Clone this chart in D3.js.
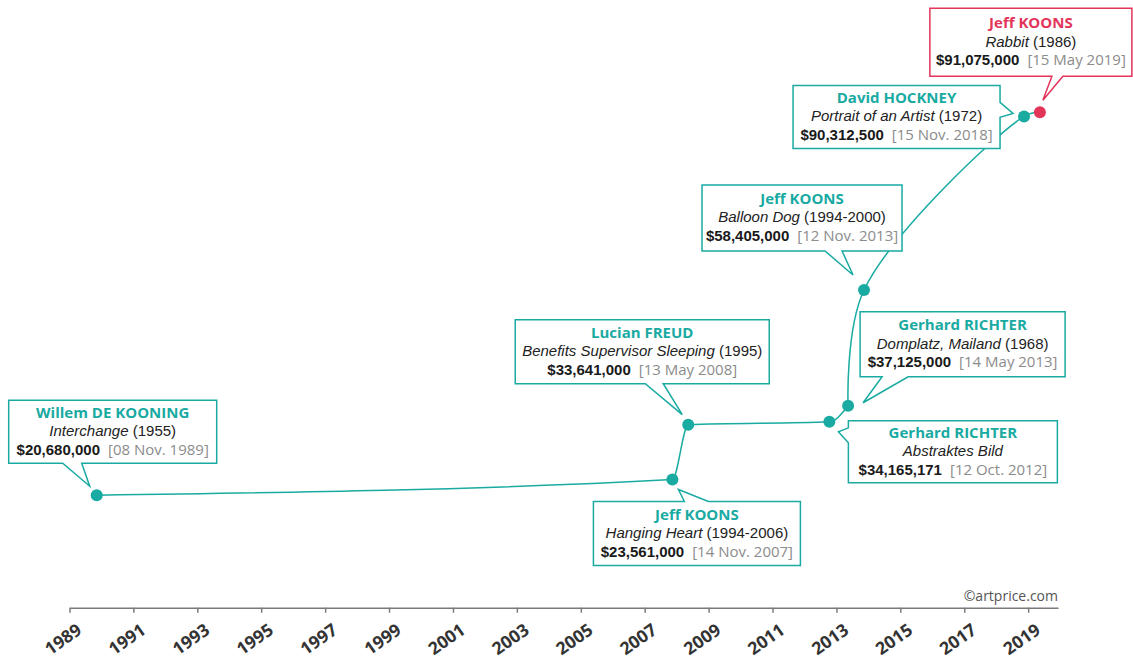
<!DOCTYPE html>
<html lang="en">
<head>
<meta charset="UTF-8">
<title>Auction records</title>
<script src="https://d3js.org/d3.v7.min.js"></script>
<style>
  body { margin: 0; background: #fff; }
</style>
</head>
<body>
<script>

    // data
    var artists = ['Willem DE KOONING', 'Jeff KOONS', 'Lucian FREUD', 'Gerhard RICHTER',
                   'Gerhard RICHTER', 'Jeff KOONS', 'David HOCKNEY', 'Jeff KOONS']
    var works = ['Interchange', 'Hanging Heart', 'Benefits Supervisor Sleeping', 'Abstraktes Bild',
                 'Domplatz, Mailand', 'Balloon Dog', 'Portrait of an Artist', 'Rabbit']
    var workYears = ['1955', '1994-2006', '1995', '', '1968', '1994-2000', '1972', '1986']
    var prices = [20680000, 23561000, 33641000, 34165171, 37125000, 58405000, 90312500, 91075000]
    var saleDates = ['1989-11-08', '2007-11-14', '2008-05-13', '2012-10-12',
                     '2013-05-14', '2013-11-12', '2018-11-15', '2019-05-15']
    var dateLabels = ['08 Nov. 1989', '14 Nov. 2007', '13 May 2008', '12 Oct. 2012',
                      '14 May 2013', '12 Nov. 2013', '15 Nov. 2018', '15 May 2019']
    var tickYears = [1989, 1991, 1993, 1995, 1997, 1999, 2001, 2003, 2005,
                     2007, 2009, 2011, 2013, 2015, 2017, 2019]

    var w = 1133, h = 660;
    var teal = '#19aaa2', red = '#e3345a';

    // callout boxes, placed relative to their dot
    // side = where the pointer leaves the box, a/b = pointer base, tx/ty = pointer tip
    var callouts = [
        {dx: -88, dy: -95, w: 208, h: 63, side: 'bottom', a: -34, b: -15, tx: -7, ty: -9},
        {dx: -79, dy: 22, w: 207, h: 64, side: 'top', a: 12, b: 36, tx: 6, ty: 10},
        {dx: -173, dy: -105, w: 254, h: 64, side: 'bottom', a: -43, b: -25, tx: -6, ty: -10},
        {dx: 19, dy: -1, w: 209, h: 62, side: 'left', a: 6, b: 21, tx: 9, ty: 10},
        {dx: 12, dy: -94, w: 205, h: 65, side: 'bottom', a: 34, b: 60, tx: 15, ty: -3},
        {dx: -162, dy: -105, w: 200, h: 66, side: 'bottom', a: -39, b: -22, tx: -11, ty: -15},
        {dx: -231, dy: -31, w: 207, h: 63, side: 'right', a: -14, b: 1, tx: -11, ty: -3},
        {dx: -110, dy: -104, w: 202, h: 68, side: 'bottom', a: 12, b: 23, tx: 3, ty: -12}
    ]

    var parseDate = d3.timeParse('%Y-%m-%d')
    var fmtPrice = d3.format('$,')

    var points = saleDates.map(function(d, i) {
        return {date: parseDate(d), price: prices[i], i: i}
    })

    var svg = d3.select('body')
                .append('svg')
                .attr('width', w)
                .attr('height', h)

    //scales
    var xScale = d3.scaleTime()
                   .domain([new Date(1989, 0, 1), new Date(2019, 11, 8)])
                   .range([69.5, 1058])

    var yScale = d3.scaleLinear()
                   .domain([0, 100000000])
                   .range([607.7, 63.7])

    //axis
    var axisx = d3.axisBottom(xScale)
                  .tickValues(tickYears.map(function(y) { return new Date(y, 0, 1) }))
                  .tickFormat(d3.timeFormat('%Y'))
                  .tickSize(5)
                  .tickSizeOuter(0)

    var gx = svg.append('g')
        .attr('transform', 'translate(0, ' + yScale(0) + ')')
        .call(axisx)

    gx.selectAll('path, line').attr('stroke', '#7a7a7a').attr('stroke-width', 1.5)
    gx.selectAll('text')
        .attr('x', 0).attr('y', 0).attr('dy', 0)
        .attr('transform', 'translate(13, 25) rotate(-35)')
        .attr('text-anchor', 'end')
        .attr('fill', '#333')
        .style('font-family', '"Open Sans", sans-serif')
        .style('font-weight', 'bold')
        .style('font-size', '17.5px')

    svg.append('text')
        .attr('x', 1058).attr('y', 601)
        .attr('text-anchor', 'end')
        .attr('fill', '#555')
        .style('font-family', '"Open Sans", sans-serif')
        .style('font-size', '14px')
        .text('\u00a9artprice.com')

    //line: flat part monotone, steep climb smoother
    var lineFlat = d3.line()
                 .x(function(d) { return xScale(d.date) })
                 .y(function(d) { return yScale(d.price) })
                 .curve(d3.curveMonotoneX)

    var lineClimb = d3.line()
                 .x(function(d) { return xScale(d.date) })
                 .y(function(d) { return yScale(d.price) })
                 .curve(d3.curveCatmullRom.alpha(0.5))

    svg.append('path')
        .datum(points.slice(0, 5))
        .attr('d', lineFlat)
        .attr('fill', 'none')
        .attr('stroke', teal)
        .attr('stroke-width', 1.5)

    svg.append('path')
        .datum(points.slice(4))
        .attr('d', lineClimb)
        .attr('fill', 'none')
        .attr('stroke', teal)
        .attr('stroke-width', 1.5)

    //callouts
    function boxPath(px, py, c) {
        var x0 = px + c.dx, y0 = py + c.dy, x1 = x0 + c.w, y1 = y0 + c.h
        var tx = px + c.tx, ty = py + c.ty
        var p = 'M' + x0 + ',' + y0
        if (c.side == 'top') p += 'H' + (px + c.a) + 'L' + tx + ',' + ty + 'L' + (px + c.b) + ',' + y0
        p += 'H' + x1
        if (c.side == 'right') p += 'V' + (py + c.a) + 'L' + tx + ',' + ty + 'L' + x1 + ',' + (py + c.b)
        p += 'V' + y1
        if (c.side == 'bottom') p += 'H' + (px + c.b) + 'L' + tx + ',' + ty + 'L' + (px + c.a) + ',' + y1
        p += 'H' + x0
        if (c.side == 'left') p += 'V' + (py + c.b) + 'L' + tx + ',' + ty + 'L' + x0 + ',' + (py + c.a)
        return p + 'Z'
    }

    var boxes = svg.selectAll('g.callout')
        .data(points)
        .enter()
        .append('g')
        .attr('class', 'callout')

    boxes.each(function(d, i) {
        var g = d3.select(this)
        var c = callouts[i]
        var px = xScale(d.date), py = yScale(d.price)
        var col = i == points.length - 1 ? red : teal
        var cx = px + c.dx + c.w / 2, cy = py + c.dy + c.h / 2

        g.append('path')
            .attr('d', boxPath(px, py, c))
            .attr('fill', '#fff')
            .attr('stroke', col)
            .attr('stroke-width', 1.5)

        g.append('text')
            .attr('x', cx).attr('y', cy - 14)
            .attr('text-anchor', 'middle')
            .attr('fill', col)
            .style('font-family', '"Open Sans", sans-serif')
            .style('font-weight', 'bold')
            .style('font-size', '15px')
            .text(artists[i])

        var t2 = g.append('text')
            .attr('x', cx).attr('y', cy + 4.5)
            .attr('text-anchor', 'middle')
            .attr('fill', '#222')
            .style('font-family', '"Liberation Sans", Arial, sans-serif')
            .style('font-size', '15px')
        t2.append('tspan').style('font-style', 'italic').text(works[i])
        if (workYears[i]) t2.append('tspan').text(' (' + workYears[i] + ')')

        var t3 = g.append('text')
            .attr('x', cx).attr('y', cy + 23)
            .attr('text-anchor', 'middle')
            .style('font-size', '15px')
        t3.append('tspan')
            .attr('fill', '#1a1a1a')
            .style('font-family', '"Liberation Sans", Arial, sans-serif')
            .style('font-weight', 'bold')
            .text(fmtPrice(prices[i]))
        t3.append('tspan')
            .attr('dx', 8)
            .attr('fill', '#8c8c8c')
            .style('font-family', '"Open Sans", sans-serif')
            .text('[' + dateLabels[i] + ']')
    })

    //dots
    svg.selectAll('circle')
        .data(points)
        .enter()
        .append('circle')
        .attr('cx', function(d) { return xScale(d.date) })
        .attr('cy', function(d) { return yScale(d.price) })
        .attr('r', 6)
        .attr('fill', function(d, i) { return i == points.length - 1 ? red : teal })

</script>
</body>
</html>
